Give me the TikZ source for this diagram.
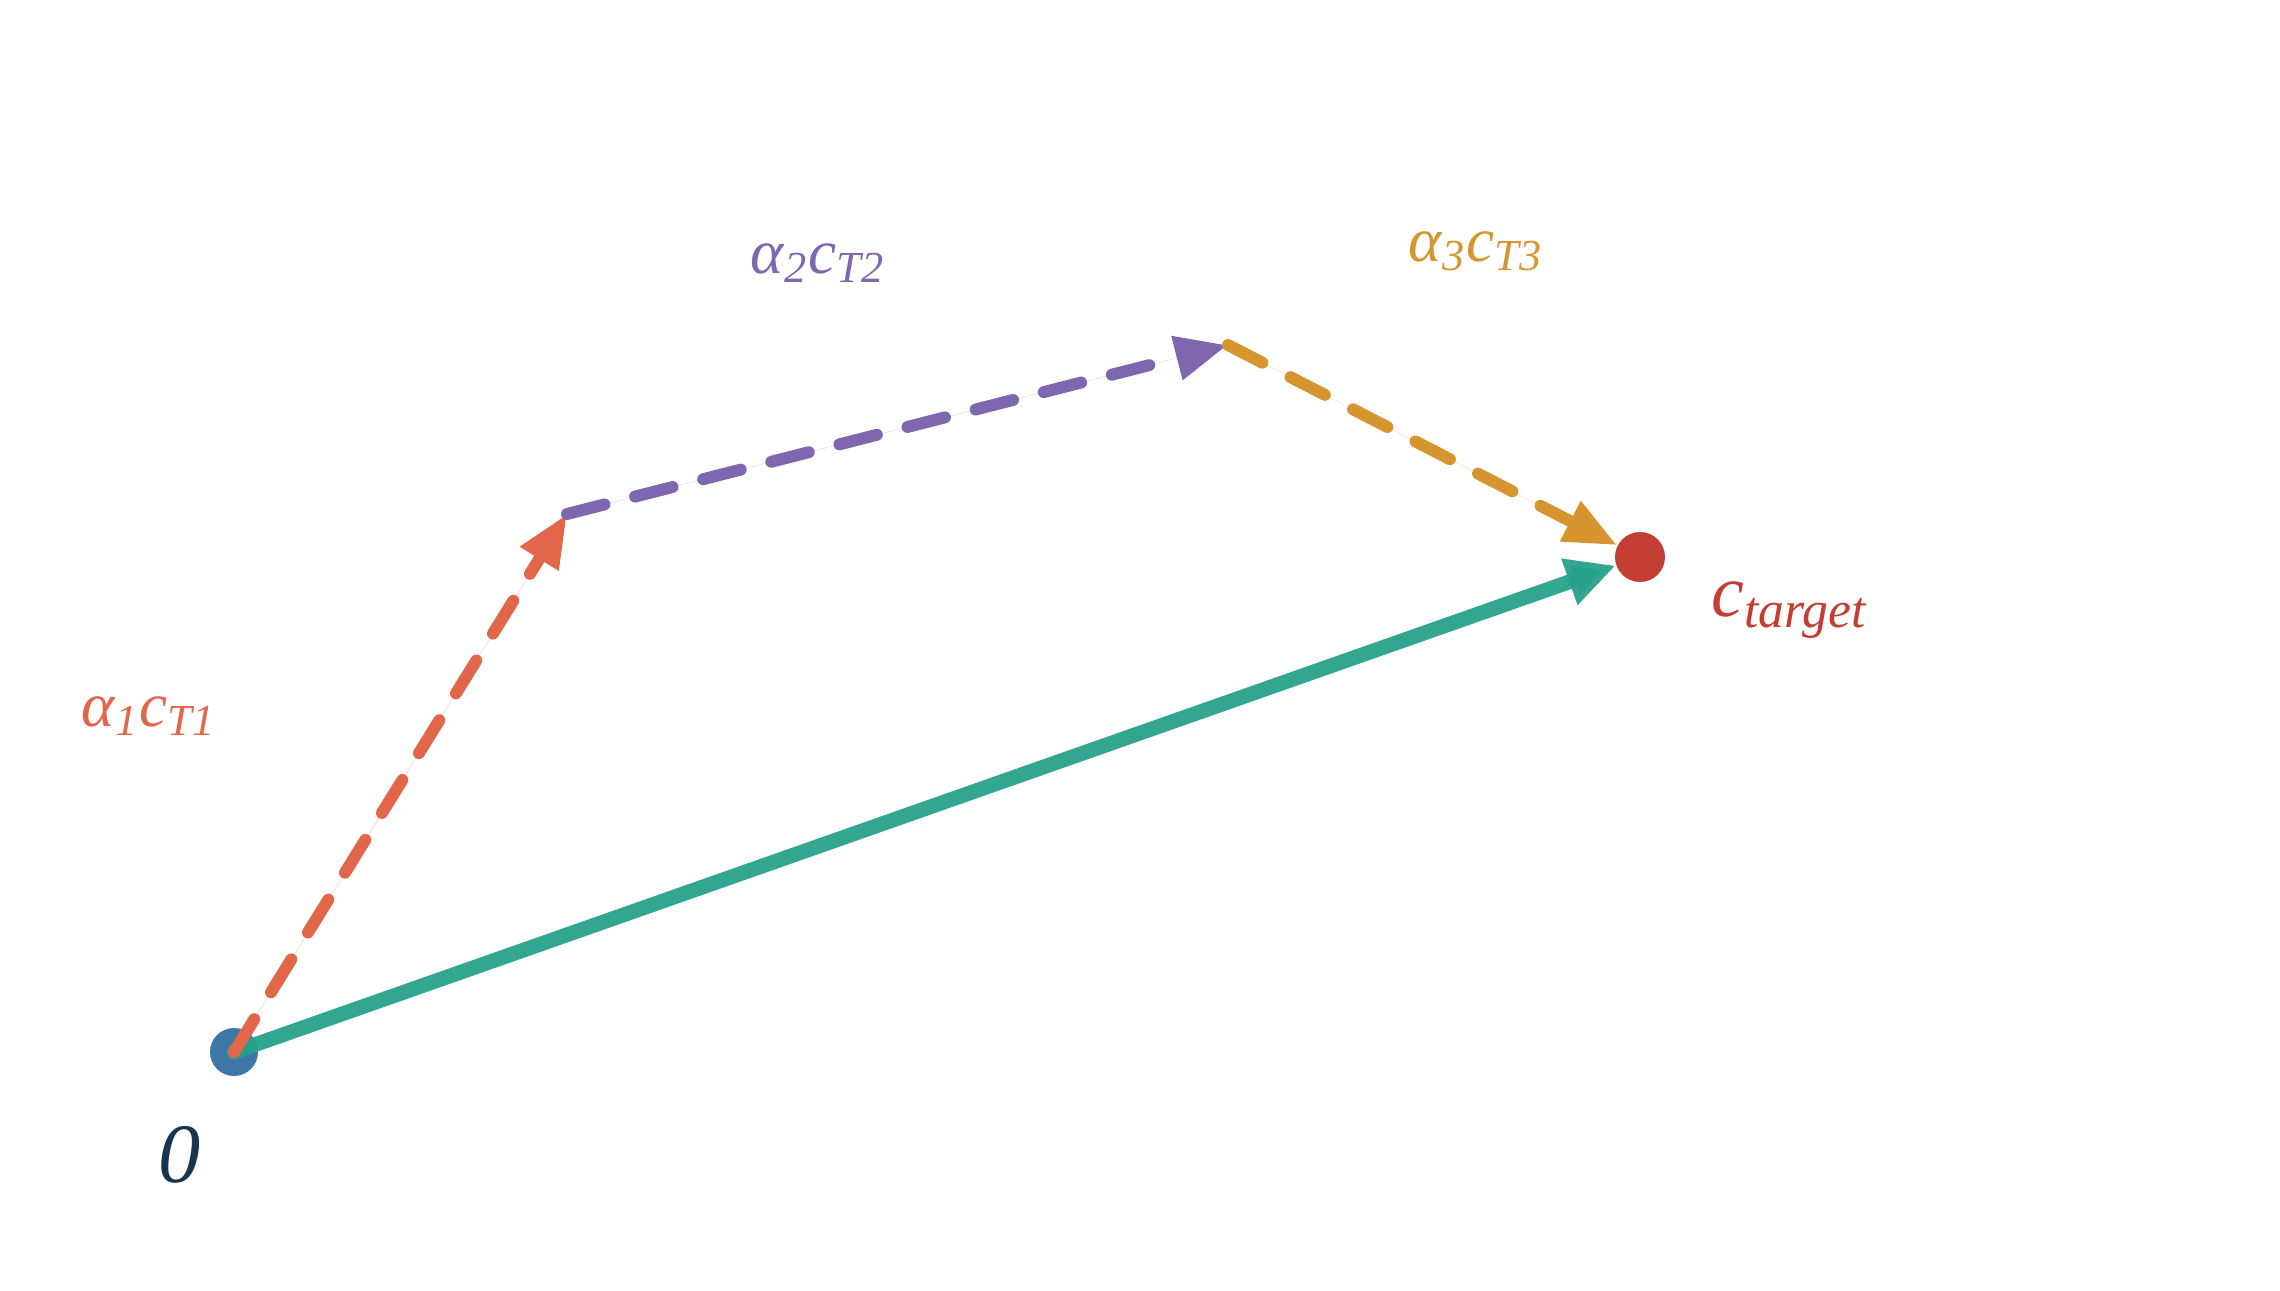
\documentclass[tikz,border=0pt]{standalone}
\usepackage{fontspec}
\setmainfont{Liberation Serif}
\usetikzlibrary{arrows.meta}
\definecolor{cred}{HTML}{E1664A}
\definecolor{cpurple}{HTML}{7F67B0}
\definecolor{corange}{HTML}{D6952F}
\definecolor{cteal}{HTML}{27A18B}
\definecolor{cblue}{HTML}{3C77A8}
\definecolor{ctarget}{HTML}{C43D33}
\definecolor{cnavy}{HTML}{17354F}
\newcommand{\lbl}[2]{\textit{#1}\textsubscript{\textit{#2}}}
\tikzset{
  vecdash/.style={line width=3.4pt, line cap=round, dash pattern=on 11pt off 9pt,
    -{Triangle[length=15pt,width=12pt]}},
  vecsolid/.style={line width=4.2pt, line cap=round, draw=cteal, draw opacity=0.95,
    -{Triangle[length=14pt,width=13pt]}},
  dot/.style={circle, inner sep=0pt, minimum size=#1},
  lab/.style={font=\fontsize{18}{22}\selectfont, inner sep=0pt}
}
\begin{document}
\begin{tikzpicture}
\useasboundingbox (0,0) rectangle (22.8,-12.9);
\node[dot=0.48cm, fill=cblue] (o) at (2.34,-10.52) {};
\coordinate (w1) at (5.67,-5.14);
\coordinate (w2) at (12.28,-3.45);
\node[dot=0.5cm, fill=ctarget] (t) at (16.40,-5.57) {};
\draw[vecsolid] (o.center) -- (t);
\draw[vecdash, draw=cred, fill=cred] (o.center) -- (w1);
\draw[vecdash, draw=cpurple, fill=cpurple] (w1) -- (w2);
\draw[vecdash, draw=corange, fill=corange] (w2) -- (t);
\node[lab, text=cred] (l1) at (1.49,-7.16) {\textit{α}\textsubscript{\textit{1}}\lbl{c}{T1}};
\node[lab, text=cpurple] (l2) at (8.18,-2.63) {\textit{α}\textsubscript{\textit{2}}\lbl{c}{T2}};
\node[lab, text=corange] (l3) at (14.76,-2.51) {\textit{α}\textsubscript{\textit{3}}\lbl{c}{T3}};
\node[lab, text=ctarget, font=\fontsize{21}{25}\selectfont] (lt) at (17.90,-6.10) {\lbl{c}{target}};
\node[lab, text=cnavy, font=\fontsize{24}{29}\selectfont] (l0) at (1.80,-11.55) {\textit{0}};
\end{tikzpicture}
\end{document}
